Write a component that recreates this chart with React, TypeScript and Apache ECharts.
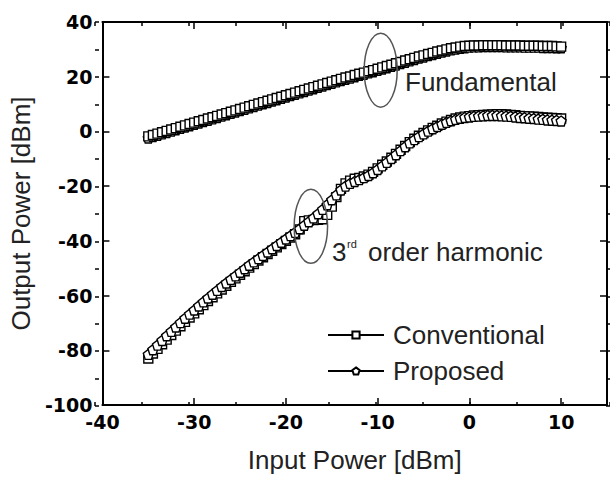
import React, { useEffect, useRef } from 'react';
import * as echarts from 'echarts';

// Input power sweep [dBm]
const inputPower = [
  -35, -34.5, -34, -33.5, -33, -32.5, -32, -31.5, -31, -30.5,
  -30, -29.5, -29, -28.5, -28, -27.5, -27, -26.5, -26, -25.5,
  -25, -24.5, -24, -23.5, -23, -22.5, -22, -21.5, -21, -20.5,
  -20, -19.5, -19, -18.5, -18, -17.5, -17, -16.5, -16, -15.5,
  -15, -14.5, -14, -13.5, -13, -12.5, -12, -11.5, -11, -10.5,
  -10, -9.5, -9, -8.5, -8, -7.5, -7, -6.5, -6, -5.5,
  -5, -4.5, -4, -3.5, -3, -2.5, -2, -1.5, -1, -0.5,
  0, 0.5, 1, 1.5, 2, 2.5, 3, 3.5, 4, 4.5,
  5, 5.5, 6, 6.5, 7, 7.5, 8, 8.5, 9, 9.5, 10,
];

// Fundamental output power [dBm]
const fundConv = [
  -1.8, -1.3, -0.8, -0.3, 0.2, 0.7, 1.2, 1.7, 2.2, 2.7,
  3.2, 3.7, 4.2, 4.7, 5.2, 5.7, 6.2, 6.7, 7.2, 7.7,
  8.2, 8.7, 9.2, 9.7, 10.2, 10.7, 11.2, 11.7, 12.2, 12.7,
  13.2, 13.7, 14.2, 14.7, 15.2, 15.7, 16.2, 16.7, 17.2, 17.7,
  18.2, 18.7, 19.2, 19.7, 20.1, 20.6, 21.1, 21.5, 22.0, 22.4,
  22.9, 23.4, 23.9, 24.4, 24.9, 25.4, 25.9, 26.4, 26.9, 27.4,
  27.8, 28.3, 28.7, 29.2, 29.6, 30.0, 30.4, 30.7, 31.0, 31.2,
  31.3, 31.4, 31.4, 31.5, 31.5, 31.5, 31.5, 31.5, 31.4, 31.4,
  31.4, 31.4, 31.3, 31.3, 31.3, 31.3, 31.2, 31.2, 31.2, 31.1, 31.0,
];
const fundProp = [
  -2.4, -1.9, -1.4, -0.9, -0.4, 0.1, 0.6, 1.1, 1.6, 2.1,
  2.6, 3.1, 3.6, 4.1, 4.6, 5.1, 5.6, 6.1, 6.6, 7.1,
  7.6, 8.1, 8.6, 9.1, 9.6, 10.1, 10.6, 11.1, 11.6, 12.1,
  12.6, 13.1, 13.6, 14.1, 14.6, 15.1, 15.6, 16.1, 16.6, 17.1,
  17.6, 18.1, 18.6, 19.1, 19.5, 20.0, 20.5, 20.9, 21.4, 21.8,
  22.3, 22.8, 23.3, 23.8, 24.3, 24.8, 25.3, 25.8, 26.3, 26.8,
  27.2, 27.7, 28.1, 28.6, 29.0, 29.4, 29.8, 30.1, 30.4, 30.6,
  30.8, 30.9, 30.9, 31.0, 31.0, 31.0, 31.0, 31.0, 30.9, 30.9,
  30.9, 30.9, 30.8, 30.8, 30.8, 30.8, 30.7, 30.7, 30.7, 30.6, 30.6,
];

// 3rd order harmonic output power [dBm]
const harmConv = [
  -83, -81.2, -79.5, -77.8, -76.1, -74.4, -72.8, -71.2, -69.6, -68.0,
  -66.5, -65.0, -63.5, -62.0, -60.6, -59.2, -57.8, -56.4, -55.0, -53.7,
  -52.4, -51.1, -49.8, -48.5, -47.2, -46.0, -44.8, -43.6, -42.4, -41.2,
  -40.0, -38.8, -37.6, -35.8, -32.8, -32.5, -32.4, -32.3, -32.1, -30.5,
  -27.5, -24.0, -21.0, -19.0, -18.0, -17.3, -17.0, -16.5, -15.8, -14.8,
  -13.5, -12.2, -11.0, -9.6, -8.2, -6.7, -5.3, -3.9, -2.7, -1.6,
  -0.6, 0.4, 1.3, 2.1, 2.9, 3.6, 4.2, 4.7, 5.1, 5.4,
  5.6, 5.8, 5.9, 6.0, 6.1, 6.2, 6.3, 6.3, 6.2, 6.0,
  5.9, 5.7, 5.6, 5.5, 5.4, 5.3, 5.1, 5.0, 4.9, 4.8, 4.7,
];
const harmProp = [
  -81.5, -79.8, -78.1, -76.4, -74.7, -73.1, -71.5, -69.9, -68.3, -66.8,
  -65.3, -63.8, -62.3, -60.9, -59.5, -58.1, -56.7, -55.4, -54.1, -52.8,
  -51.5, -50.2, -48.9, -47.7, -46.5, -45.3, -44.1, -42.9, -41.7, -40.5,
  -39.3, -38.1, -36.9, -35.6, -34.3, -33.0, -31.6, -30.1, -28.5, -26.8,
  -25.0, -23.2, -21.4, -20.0, -19.0, -18.3, -17.6, -16.9, -16.1, -15.1,
  -13.9, -12.6, -11.3, -9.9, -8.5, -7.0, -5.6, -4.2, -3.0, -1.9,
  -0.9, 0.1, 1.0, 1.8, 2.6, 3.3, 3.9, 4.4, 4.8, 5.1,
  5.3, 5.5, 5.6, 5.7, 5.8, 5.8, 5.8, 5.7, 5.6, 5.5,
  5.3, 5.1, 5.0, 4.8, 4.7, 4.5, 4.4, 4.2, 4.1, 4.0, 3.8,
];

const seriesNames = ['Conventional', 'Proposed'];
const xTitle = 'Input Power [dBm]';
const yTitle = 'Output Power [dBm]';

// annotation anchors in data coordinates
const fundEllipseCenter = [-9.67, 22.4];
const harmEllipseCenter = [-17.28, -34.7];

const PENTAGON = 'path://M0,-10L9.51,-3.09L5.88,8.09L-5.88,8.09L-9.51,-3.09Z';
const TEXT_FONT = '"Liberation Sans", Arial, sans-serif';
const TICK_FONT = '"DejaVu Sans", Verdana, sans-serif';
const TEXT_COLOR = '#222';

const zip = (ys: number[]) => inputPower.map((x, i) => [x, ys[i]]);

const gridBox = { left: 95, right: -3, top: 22, bottom: 72 };

const tickLabel = {
  fontFamily: TICK_FONT,
  fontWeight: 'bold' as const,
  fontSize: 19,
  color: '#000',
};

export default function App() {
  const ref = useRef<HTMLDivElement>(null);

  useEffect(() => {
    const chart = echarts.init(ref.current!, null, { renderer: 'svg' });
    const axisLine = { show: true, onZero: false, lineStyle: { color: '#000', width: 2 } };
    const noLine = { show: false, onZero: false };
    const majorTick = { show: true, inside: true, length: 7, lineStyle: { color: '#000', width: 1.5 } };
    const minorTick = { show: true, inside: true, length: 4, lineStyle: { color: '#000', width: 1.5 } };
    const markerStyle = { color: '#fff', borderColor: '#000', borderWidth: 1.4 };
    const lineStyle = { color: '#000', width: 1 };

    chart.setOption({
      animation: false,
      backgroundColor: '#fff',
      grid: [{ ...gridBox }, { ...gridBox }],
      xAxis: [
        {
          type: 'value', gridIndex: 0, position: 'bottom', min: -40, max: 15, interval: 10,
          axisLine, axisTick: majorTick, splitLine: { show: false },
          axisLabel: { ...tickLabel, margin: 7, formatter: (v: number) => (v > 10 ? '' : String(v)) },
          name: xTitle, nameLocation: 'middle', nameGap: 42,
          nameTextStyle: { fontFamily: TEXT_FONT, fontSize: 26, color: TEXT_COLOR },
        },
        {
          type: 'value', gridIndex: 0, position: 'top', min: -40, max: 15, interval: 10,
          axisLine, axisTick: majorTick, splitLine: { show: false }, axisLabel: { show: false },
        },
        {
          type: 'value', gridIndex: 1, position: 'bottom', min: -40, max: 15, interval: 5,
          axisLine: noLine, axisTick: minorTick, splitLine: { show: false }, axisLabel: { show: false },
        },
        {
          type: 'value', gridIndex: 1, position: 'top', min: -40, max: 15, interval: 5,
          axisLine: noLine, axisTick: minorTick, splitLine: { show: false }, axisLabel: { show: false },
        },
      ],
      yAxis: [
        {
          type: 'value', gridIndex: 0, position: 'left', min: -100, max: 40, interval: 20,
          axisLine, axisTick: majorTick, splitLine: { show: false },
          axisLabel: { ...tickLabel, margin: 10 },
          name: yTitle, nameLocation: 'middle', nameGap: 62,
          nameTextStyle: { fontFamily: TEXT_FONT, fontSize: 26, color: TEXT_COLOR },
        },
        {
          type: 'value', gridIndex: 0, position: 'right', min: -100, max: 40, interval: 20,
          axisLine, axisTick: majorTick, splitLine: { show: false }, axisLabel: { show: false },
        },
        {
          type: 'value', gridIndex: 1, position: 'left', min: -100, max: 40, interval: 10,
          axisLine: noLine, axisTick: minorTick, splitLine: { show: false }, axisLabel: { show: false },
        },
        {
          type: 'value', gridIndex: 1, position: 'right', min: -100, max: 40, interval: 10,
          axisLine: noLine, axisTick: minorTick, splitLine: { show: false }, axisLabel: { show: false },
        },
      ],
      legend: {
        data: seriesNames,
        orient: 'vertical',
        left: 327,
        top: 322,
        itemWidth: 56,
        itemHeight: 9,
        itemGap: 10,
        padding: 0,
        selectedMode: false,
        textStyle: { fontFamily: TEXT_FONT, fontSize: 26, color: TEXT_COLOR, lineHeight: 26, padding: [0, 0, 0, 4] },
      },
      series: [
        {
          name: seriesNames[0], type: 'line', xAxisIndex: 0, yAxisIndex: 0, z: 3,
          data: zip(fundConv), symbol: 'rect', symbolSize: 9, showAllSymbol: true,
          itemStyle: markerStyle, lineStyle,
        },
        {
          name: seriesNames[1], type: 'line', xAxisIndex: 0, yAxisIndex: 0, z: 2,
          data: zip(fundProp), symbol: PENTAGON, symbolSize: 10, showAllSymbol: true,
          itemStyle: markerStyle, lineStyle,
        },
        {
          name: seriesNames[0], type: 'line', xAxisIndex: 0, yAxisIndex: 0, z: 2,
          data: zip(harmConv), symbol: 'rect', symbolSize: 9, showAllSymbol: true,
          itemStyle: markerStyle, lineStyle,
        },
        {
          name: seriesNames[1], type: 'line', xAxisIndex: 0, yAxisIndex: 0, z: 3,
          data: zip(harmProp), symbol: PENTAGON, symbolSize: 10, showAllSymbol: true,
          itemStyle: markerStyle, lineStyle,
        },
      ],
    });

    const f = chart.convertToPixel({ xAxisIndex: 0, yAxisIndex: 0 }, fundEllipseCenter) as number[];
    const h = chart.convertToPixel({ xAxisIndex: 0, yAxisIndex: 0 }, harmEllipseCenter) as number[];
    const ellipseStyle = { fill: 'none', stroke: '#555', lineWidth: 1.5 };

    chart.setOption({
      graphic: [
        { type: 'ellipse', shape: { cx: f[0], cy: f[1], rx: 16.5, ry: 37 }, style: ellipseStyle, z: 10 },
        { type: 'ellipse', shape: { cx: h[0], cy: h[1], rx: 16.7, ry: 37 }, style: ellipseStyle, z: 10 },
        {
          type: 'text', x: 405, y: 82, z: 10,
          style: { text: 'Fundamental', fontFamily: TEXT_FONT, fontSize: 26, fill: TEXT_COLOR, align: 'left', verticalAlign: 'middle' },
        },
        {
          type: 'text', x: 332, y: 252, z: 10,
          style: { text: '3', fontFamily: TEXT_FONT, fontSize: 26, fill: TEXT_COLOR, align: 'left', verticalAlign: 'middle' },
        },
        {
          type: 'text', x: 347, y: 244, z: 10,
          style: { text: 'rd', fontFamily: TEXT_FONT, fontSize: 11, fill: TEXT_COLOR, align: 'left', verticalAlign: 'middle' },
        },
        {
          type: 'text', x: 368, y: 252, z: 10,
          style: { text: 'order harmonic', fontFamily: TEXT_FONT, fontSize: 26, fill: TEXT_COLOR, align: 'left', verticalAlign: 'middle' },
        },
      ],
    });

    return () => chart.dispose();
  }, []);

  return (
    <div
      ref={ref}
      style={{ position: 'fixed', left: 0, top: 0, width: 610, height: 478, background: '#fff' }}
    />
  );
}
